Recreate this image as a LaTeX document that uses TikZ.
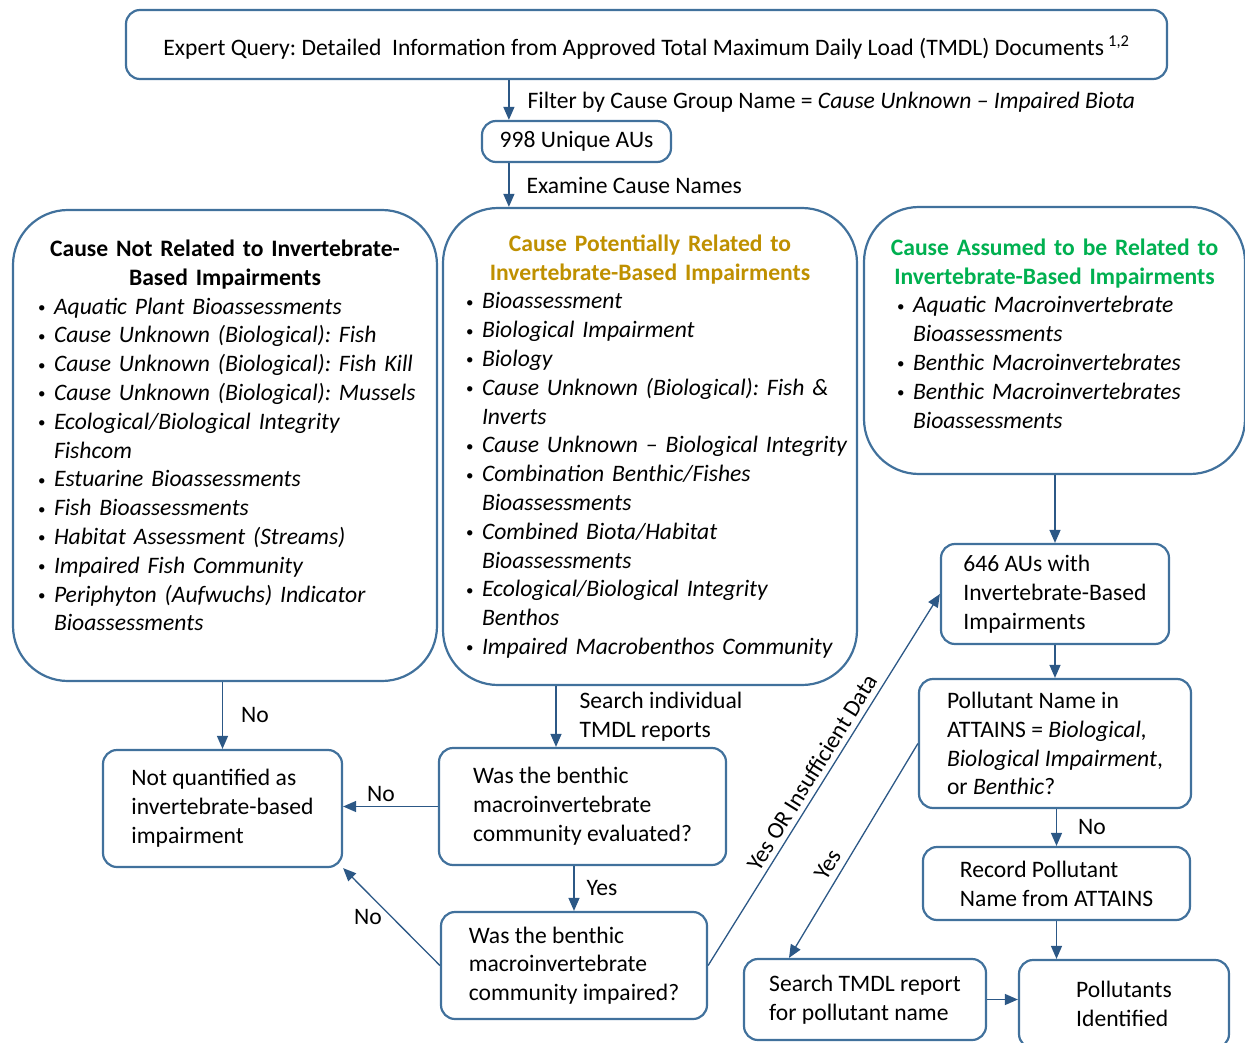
\documentclass[tikz,border=0pt]{standalone}
\usepackage{fontspec}
\setmainfont{Carlito}
\usetikzlibrary{arrows.meta}
\frenchspacing

\definecolor{boxblue}{RGB}{65,113,156}
\definecolor{arrowblue}{RGB}{44,88,134}
\definecolor{titlegold}{RGB}{191,144,0}
\definecolor{titlegreen}{RGB}{0,176,80}

\newcommand{\itm}[1]{\par\noindent\makebox[16pt][l]{\raisebox{1.5pt}{\fontsize{15}{15}\selectfont\textbullet}}\mbox{\itshape #1}}
\newcommand{\itmcont}[1]{\par\noindent\hspace*{16pt}\mbox{\itshape #1}}
\newcommand{\headline}[1]{\noindent\makebox[\linewidth][c]{\bfseries #1}\par}
\newcommand{\padbelow}[1]{\par\nointerlineskip\vbox to #1{}}

\begin{document}
\begin{tikzpicture}[x=1pt, y=-1pt, >={Triangle[length=13pt,width=11pt]},
  every node/.style={font=\fontsize{23.6}{28.8}\selectfont, inner sep=0pt},
  box/.style={draw=boxblue, line width=2.2pt, rounded corners=14pt, align=left},
  bigbox/.style={draw=boxblue, line width=2.2pt, rounded corners=55pt, align=left},
  arr/.style={->, draw=arrowblue, line width=1.3pt}]
\useasboundingbox (0,0) rectangle (1245,1043);
\clip (0,0) rectangle (1245,1043);

% top of the flow
\node[box, align=center, minimum width=1041pt, minimum height=69pt, text height=24pt, text depth=2pt] (query) at (646.5,44.5)
  {Expert Query: Detailed~ Information from Approved Total Maximum Daily Load (TMDL) Documents\,\textsuperscript{1,2}};
\node[box, minimum width=189pt, minimum height=41pt] (aus) at (576.5,141.5) {998 Unique AUs};

% the three groups of cause names
\node[bigbox, text width=374pt, inner xsep=25pt, minimum height=471pt] (notrel) at (225,445.5) {%
  \headline{Cause Not Related to Invertebrate-}
  \headline{Based Impairments}
  \itm{Aquatic Plant Bioassessments}
  \itm{Cause Unknown (Biological): Fish}
  \itm{Cause Unknown (Biological): Fish Kill}
  \itm{Cause Unknown (Biological): Mussels}
  \itm{Ecological/Biological Integrity}
  \itmcont{Fishcom}
  \itm{Estuarine Bioassessments}
  \itm{Fish Bioassessments}
  \itm{Habitat Assessment (Streams)}
  \itm{Impaired Fish Community}
  \itm{Periphyton (Aufwuchs) Indicator}
  \itmcont{Bioassessments}\padbelow{20pt}};
\node[bigbox, text width=368pt, inner xsep=23pt, minimum height=477pt] (potential) at (650,446.5) {%
  \headline{\color{titlegold}Cause Potentially Related to}
  \headline{\color{titlegold}Invertebrate-Based Impairments}
  \itm{Bioassessment}
  \itm{Biological Impairment}
  \itm{Biology}
  \itm{Cause Unknown (Biological): Fish \&}
  \itmcont{Inverts}
  \itm{Cause Unknown – Biological Integrity}
  \itm{Combination Benthic/Fishes}
  \itmcont{Bioassessments}
  \itm{Combined Biota/Habitat}
  \itmcont{Bioassessments}
  \itm{Ecological/Biological Integrity}
  \itmcont{Benthos}
  \itm{Impaired Macrobenthos Community}};
\node[bigbox, text width=315pt, inner xsep=33pt, minimum height=267pt] (assumed) at (1054.5,340.5) {%
  \headline{\color{titlegreen}Cause Assumed to be Related to}
  \headline{\color{titlegreen}Invertebrate-Based Impairments}
  \itm{Aquatic Macroinvertebrate}
  \itmcont{Bioassessments}
  \itm{Benthic Macroinvertebrates}
  \itm{Benthic Macroinvertebrates}
  \itmcont{Bioassessments}\padbelow{14pt}};

% decisions and results
\node[box, minimum width=239pt, minimum height=117pt] (notq) at (222.5,808.5) {Not quantified as\\invertebrate-based\\impairment};
\node[box, minimum width=287pt, minimum height=117pt] (eval) at (582.5,806.5) {Was the benthic\\macroinvertebrate\\community evaluated?};
\node[box, minimum width=266pt, minimum height=107pt] (impaired) at (574,965.5) {Was the benthic\\macroinvertebrate\\community impaired?};
\node[box, minimum width=228pt, minimum height=100pt] (inv) at (1055,594) {646 AUs with\\Invertebrate-Based\\Impairments};
\node[box, minimum width=272pt, minimum height=129pt] (pname) at (1055,743.5) {Pollutant Name in\\ATTAINS = \textit{Biological,}\\\textit{Biological Impairment},\\or \textit{Benthic}?};
\node[box, minimum width=267pt, minimum height=73pt] (record) at (1056.5,883.5) {Record Pollutant\\Name from ATTAINS};
\node[box, minimum width=242pt, minimum height=81pt] (search) at (865,999.5) {Search TMDL report\\for pollutant name};
\node[box, minimum width=210pt, minimum height=88pt] (ident) at (1124,1004) {Pollutants\\Identified};

\coordinate (feed) at ([xshift=28pt]aus.north west);
\coordinate (feedb) at ([xshift=28pt]aus.south west);
\coordinate (srch) at ([xshift=-26.5pt]eval.north);
\coordinate (tosearch) at ([xshift=-76pt]search.north);

% connectors
\draw[arr] (feed |- query.south) -- (feed)
  node[midway, right=18pt, yshift=-2pt] {Filter by Cause Group Name = \textit{Cause Unknown – Impaired Biota}};
\draw[arr] (feedb) -- (feedb |- potential.north) node[midway, right=17pt] {Examine Cause Names};
\draw[arr] (notq.north |- notrel.south) -- (notq.north) node[midway, right=18pt] {No};
\draw[arr] (srch |- potential.south) -- (srch)
  node[midway, right=23pt, align=left] {Search individual\\TMDL reports};
\draw[arr] (eval.west) -- (eval.west -| notq.east) node[pos=0.6, above=4pt] {No};
\draw[arr] (impaired.north |- eval.south) -- (impaired.north) node[midway, right=12pt] {Yes};
\draw[arr] (impaired.west) -- (notq.south east) node[midway, left=9pt] {No};
\draw[arr] (impaired.east) -- (inv.west) node[pos=0.5, sloped, above=5pt] {Yes OR Insufficient Data};
\draw[arr] (inv.north |- assumed.south) -- (inv.north);
\draw[arr] (inv.south) -- (inv.south |- pname.north);
\draw[arr] (record.north |- pname.south) -- (record.north) node[midway, right=21pt] {No};
\draw[arr] (pname.west) -- (tosearch) node[pos=0.6, sloped, above=6pt] {Yes};
\draw[arr] (record.south) -- (record.south |- ident.north);
\draw[arr] (search.east) -- (search.east -| ident.west);
\end{tikzpicture}
\end{document}
